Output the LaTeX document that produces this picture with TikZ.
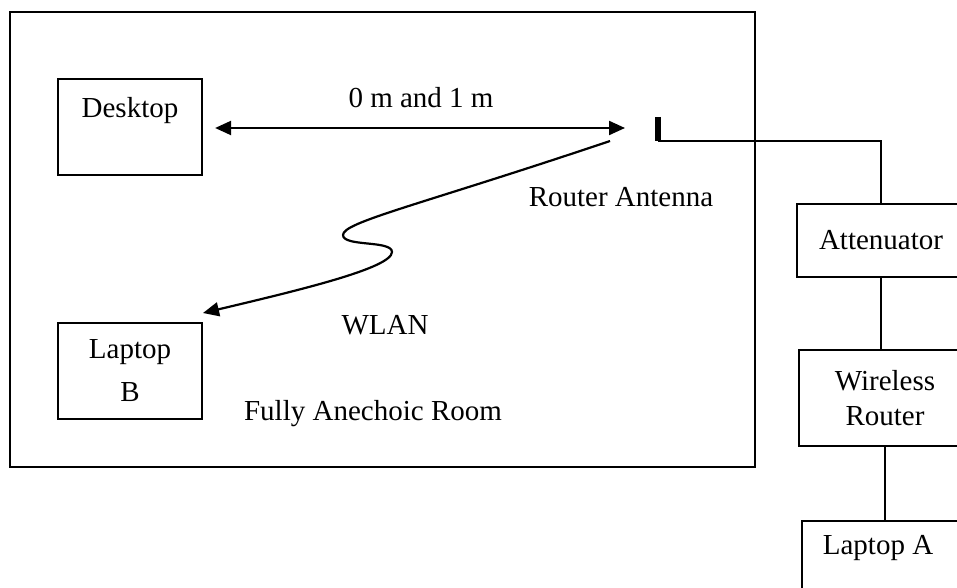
\documentclass[tikz,border=0pt]{standalone}
\usepackage{fontspec}
\setmainfont{Liberation Serif}
\usetikzlibrary{arrows.meta,positioning,calc}

\tikzset{
  box/.style={draw,line width=1.1pt,inner sep=0pt,align=center},
  link/.style={line width=1.1pt},
  dist/.style={line width=1.1pt,{Triangle[length=8pt,width=7pt]}-{Triangle[length=8pt,width=7pt]}},
  wlan/.style={line width=1.1pt,-{Triangle[length=8pt,width=7pt]}}
}

\begin{document}
\begin{tikzpicture}[x=0.5pt,y=-0.5pt,font=\fontsize{14.5}{17.5}\selectfont]
  \useasboundingbox (0,0) rectangle (957,588);
  \clip (0,0) rectangle (957,588);

  % room and the devices in it
  \node[box,line width=1.3pt,minimum width=372.5pt,minimum height=227.5pt] (room) at (382.5,239.5) {};
  \node[box,minimum width=72pt,minimum height=48pt] (desk) at (130,127) {};
  \node (desktxt) at (130,111) {Desktop};
  \node[box,minimum width=72pt,minimum height=48pt] (lapB) at (130,371) {Laptop\\[4pt]B};

  % outside the room
  \node[box,minimum width=84pt,minimum height=36.5pt] (att) at (881,240.5) {Attenuator};
  \node[box,minimum width=86pt,minimum height=48pt] (wr) at (885,398) {Wireless\\Router};
  \node[box,minimum width=84pt,minimum height=45pt] (lapA) at (886,566) {};
  \node (lapAtxt) at (878,548) {Laptop A};

  % antenna
  \coordinate (ant-top) at (658,117);
  \coordinate (ant-foot) at (658,141);
  \draw[line width=3pt] (ant-top) -- (ant-foot);
  \draw[link] (ant-foot) -| (att.north);
  \draw[link] (att.south) -- (att.south |- wr.north);
  \draw[link] (wr.south) -- (wr.south |- lapA.north);

  % distance
  \coordinate (dist-r) at (625,128);
  \draw[dist] ([xshift=6pt]desk.east |- dist-r) -- (dist-r);

  % wlan link
  \coordinate (wave-s) at (610,141);
  \coordinate (wave-e) at (203,313);
  \draw[wlan] (wave-s) .. controls (420,205) and (343,222) .. (343,235)
    .. controls (343,247) and (392,240) .. (392,252)
    .. controls (392,268) and (300,290) .. (wave-e);

  % labels
  \node (distlbl) at (421,98) {0 m and 1 m};
  \node (antlbl) at (621,197) {Router Antenna};
  \node (wlanlbl) at (385,325) {WLAN};
  \node (roomlbl) at (373,414) {Fully Anechoic Room};
\end{tikzpicture}
\end{document}
